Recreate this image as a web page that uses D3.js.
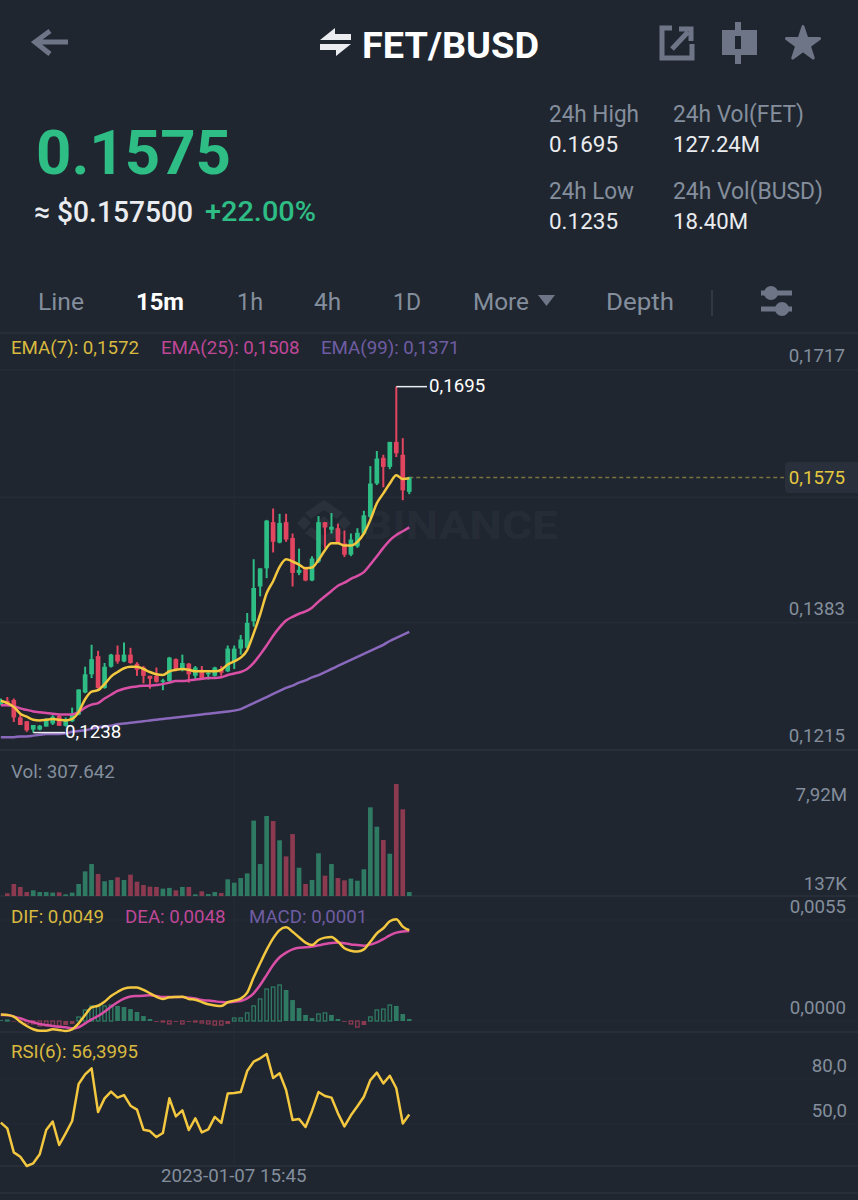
<!DOCTYPE html>
<html>
<head>
<meta charset="utf-8">
<title>FET/BUSD</title>
<script src="https://cdn.jsdelivr.net/npm/d3@7"></script>
<style>
  html, body { margin: 0; padding: 0; background: #1f2630; }
  svg { display: block; font-family: Roboto, sans-serif; }
</style>
</head>
<body>
<div id="chart"></div>
<script>
// 15m candles, first one is cut by the left edge
var opens = [
  0.1275, 0.1280, 0.1281, 0.1258, 0.1253, 0.1242, 0.1242, 0.1246, 0.1250, 0.1260,
  0.1247, 0.1253, 0.1262, 0.1291, 0.1315, 0.1339, 0.1297, 0.1325, 0.1341, 0.1332,
  0.1341, 0.1329, 0.1324, 0.1313, 0.1313, 0.1305, 0.1306, 0.1335, 0.1321, 0.1329,
  0.1313, 0.1321, 0.1315, 0.1313, 0.1321, 0.1319, 0.1332, 0.1349, 0.1350, 0.1385,
  0.1431, 0.1455, 0.1516, 0.1489, 0.1516, 0.1495, 0.1449, 0.1454, 0.1439, 0.1464,
  0.1516, 0.1506, 0.1508, 0.1488, 0.1473, 0.1484, 0.1501, 0.1523, 0.1567, 0.1601,
  0.1589, 0.1622, 0.1605, 0.1556
];
var highs = [
  0.1283, 0.1285, 0.1283, 0.1262, 0.1253, 0.1248, 0.1248, 0.1257, 0.1261, 0.1262,
  0.1258, 0.1271, 0.1295, 0.1325, 0.1354, 0.1346, 0.1330, 0.1342, 0.1353, 0.1357,
  0.1350, 0.1331, 0.1326, 0.1313, 0.1324, 0.1309, 0.1338, 0.1336, 0.1341, 0.1330,
  0.1326, 0.1326, 0.1318, 0.1325, 0.1326, 0.1353, 0.1353, 0.1367, 0.1396, 0.1467,
  0.1455, 0.1519, 0.1534, 0.1527, 0.1527, 0.1501, 0.1481, 0.1457, 0.1471, 0.1524,
  0.1516, 0.1528, 0.1514, 0.1505, 0.1501, 0.1508, 0.1531, 0.1590, 0.1610, 0.1605,
  0.1622, 0.1695, 0.1627, 0.1576
];
var lows = [
  0.1274, 0.1273, 0.1252, 0.1248, 0.1239, 0.1238, 0.1241, 0.1246, 0.1248, 0.1247,
  0.1246, 0.1252, 0.1261, 0.1290, 0.1310, 0.1296, 0.1296, 0.1324, 0.1329, 0.1331,
  0.1329, 0.1313, 0.1303, 0.1296, 0.1304, 0.1294, 0.1305, 0.1319, 0.1319, 0.1304,
  0.1308, 0.1308, 0.1308, 0.1312, 0.1313, 0.1318, 0.1322, 0.1341, 0.1349, 0.1378,
  0.1418, 0.1442, 0.1476, 0.1488, 0.1490, 0.1431, 0.1446, 0.1438, 0.1438, 0.1462,
  0.1482, 0.1501, 0.1487, 0.1470, 0.1471, 0.1482, 0.1499, 0.1521, 0.1565, 0.1562,
  0.1586, 0.1602, 0.1545, 0.1553
];
var closes = [
  0.1281, 0.1274, 0.1258, 0.1248, 0.1241, 0.1248, 0.1247, 0.1256, 0.1259, 0.1247,
  0.1255, 0.1262, 0.1295, 0.1315, 0.1335, 0.1297, 0.1325, 0.1341, 0.1332, 0.1341,
  0.1330, 0.1321, 0.1313, 0.1309, 0.1305, 0.1307, 0.1337, 0.1321, 0.1330, 0.1315,
  0.1324, 0.1310, 0.1317, 0.1324, 0.1317, 0.1349, 0.1349, 0.1361, 0.1383, 0.1429,
  0.1455, 0.1518, 0.1490, 0.1515, 0.1493, 0.1449, 0.1453, 0.1439, 0.1468, 0.1516,
  0.1509, 0.1510, 0.1488, 0.1473, 0.1493, 0.1502, 0.1525, 0.1567, 0.1600, 0.1589,
  0.1622, 0.1607, 0.1558, 0.1575
];
var ema7 = [
  0.1280, 0.1277, 0.1272, 0.1263, 0.1259, 0.1255, 0.1254, 0.1255, 0.1256, 0.1255,
  0.1254, 0.1256, 0.1265, 0.1282, 0.1292, 0.1294, 0.1302, 0.1312, 0.1318, 0.1323,
  0.1325, 0.1325, 0.1322, 0.1318, 0.1315, 0.1314, 0.1319, 0.1321, 0.1322, 0.1321,
  0.1319, 0.1319, 0.1319, 0.1319, 0.1321, 0.1328, 0.1332, 0.1337, 0.1347, 0.1369,
  0.1394, 0.1422, 0.1438, 0.1457, 0.1467, 0.1464, 0.1460, 0.1455, 0.1456, 0.1466,
  0.1479, 0.1488, 0.1488, 0.1485, 0.1485, 0.1490, 0.1501, 0.1519, 0.1541, 0.1554,
  0.1567, 0.1578, 0.1573, 0.1574
];
var ema25 = [
  0.1274, 0.1274, 0.1273, 0.1270, 0.1268, 0.1266, 0.1265, 0.1264, 0.1263, 0.1262,
  0.1262, 0.1262, 0.1265, 0.1271, 0.1275, 0.1277, 0.1283, 0.1288, 0.1293, 0.1296,
  0.1298, 0.1299, 0.1300, 0.1300, 0.1301, 0.1302, 0.1304, 0.1306, 0.1306, 0.1307,
  0.1308, 0.1309, 0.1310, 0.1310, 0.1311, 0.1314, 0.1316, 0.1318, 0.1322, 0.1330,
  0.1341, 0.1353, 0.1366, 0.1377, 0.1386, 0.1391, 0.1395, 0.1398, 0.1403, 0.1411,
  0.1418, 0.1425, 0.1432, 0.1436, 0.1441, 0.1445, 0.1450, 0.1460, 0.1471, 0.1482,
  0.1492, 0.1499, 0.1504, 0.1509
];
var ema99 = [
  0.1232, 0.1232, 0.1232, 0.1233, 0.1233, 0.1234, 0.1235, 0.1236, 0.1236, 0.1236,
  0.1237, 0.1239, 0.1240, 0.1241, 0.1243, 0.1245, 0.1246, 0.1247, 0.1249, 0.1250,
  0.1251, 0.1252, 0.1253, 0.1254, 0.1255, 0.1256, 0.1257, 0.1258, 0.1259, 0.1260,
  0.1261, 0.1262, 0.1263, 0.1264, 0.1265, 0.1266, 0.1267, 0.1269, 0.1273, 0.1277,
  0.1281, 0.1285, 0.1289, 0.1293, 0.1297, 0.1300, 0.1304, 0.1307, 0.1311, 0.1314,
  0.1318, 0.1322, 0.1326, 0.1330, 0.1334, 0.1338, 0.1342, 0.1346, 0.1350, 0.1354,
  0.1359, 0.1363, 0.1367, 0.1371
];
// volume in millions
var volumes = [
  0.00, 0.19, 0.85, 0.64, 0.28, 0.40, 0.28, 0.28, 0.24, 0.26,
  0.12, 0.24, 0.85, 1.74, 2.26, 1.56, 1.04, 1.13, 1.32, 1.13,
  1.51, 1.01, 0.78, 0.66, 0.64, 0.52, 0.57, 0.40, 0.64, 0.64,
  0.12, 0.33, 0.14, 0.28, 0.21, 1.18, 0.94, 1.27, 1.60, 5.33,
  2.26, 5.66, 5.30, 3.94, 2.80, 4.38, 2.00, 0.85, 1.13, 3.02,
  1.44, 2.26, 1.27, 1.11, 1.23, 1.08, 1.89, 6.27, 4.90, 3.96,
  2.99, 7.92, 6.13, 0.28
];
var dif = [
  0.00036, 0.00033, 0.00024, -0.00004, -0.00027, -0.00045, -0.00053, -0.00053, -0.00045, -0.00049,
  -0.00054, -0.00045, -0.00013, 0.00033, 0.00074, 0.00083, 0.00105, 0.00136, 0.00158, 0.00176,
  0.00183, 0.00183, 0.00169, 0.00151, 0.00132, 0.00120, 0.00129, 0.00131, 0.00132, 0.00120,
  0.00116, 0.00103, 0.00091, 0.00085, 0.00082, 0.00102, 0.00111, 0.00122, 0.00154, 0.00238,
  0.00314, 0.00387, 0.00450, 0.00495, 0.00510, 0.00486, 0.00456, 0.00427, 0.00414, 0.00441,
  0.00454, 0.00457, 0.00432, 0.00396, 0.00383, 0.00378, 0.00390, 0.00432, 0.00477, 0.00505,
  0.00543, 0.00554, 0.00514, 0.00495
];
var dea = [
  0.00033, 0.00033, 0.00024, 0.00015, 0.00002, -0.00007, -0.00016, -0.00022, -0.00027, -0.00031,
  -0.00034, -0.00040, -0.00034, -0.00013, 0.00009, 0.00027, 0.00051, 0.00078, 0.00102, 0.00122,
  0.00134, 0.00136, 0.00138, 0.00140, 0.00136, 0.00131, 0.00131, 0.00131, 0.00131, 0.00127,
  0.00122, 0.00114, 0.00111, 0.00107, 0.00103, 0.00102, 0.00105, 0.00109, 0.00123, 0.00151,
  0.00196, 0.00250, 0.00305, 0.00347, 0.00372, 0.00390, 0.00399, 0.00401, 0.00405, 0.00412,
  0.00419, 0.00425, 0.00427, 0.00423, 0.00417, 0.00414, 0.00410, 0.00416, 0.00428, 0.00446,
  0.00466, 0.00481, 0.00488, 0.00490
];
var macd = [
  0.00005, 0.00005, -0.00003, -0.00005, -0.00016, -0.00016, -0.00027, -0.00027, -0.00027, -0.00027,
  -0.00022, -0.00016, 0.00022, 0.00060, 0.00082, 0.00082, 0.00082, 0.00087, 0.00082, 0.00076,
  0.00065, 0.00049, 0.00027, 0.00011, -0.00005, -0.00005, -0.00016, -0.00005, -0.00016, -0.00005,
  -0.00005, -0.00011, -0.00016, -0.00022, -0.00022, -0.00016, 0.00016, 0.00016, 0.00044, 0.00082,
  0.00120, 0.00174, 0.00185, 0.00196, 0.00169, 0.00114, 0.00071, 0.00033, 0.00016, 0.00038,
  0.00044, 0.00033, 0.00011, -0.00005, -0.00016, -0.00033, -0.00022, 0.00022, 0.00060, 0.00065,
  0.00087, 0.00082, 0.00038, 0.00011
];
var rsi = [
  50.9, 47.1, 31.1, 28.2, 22.0, 23.8, 29.8, 46.0, 51.6, 36.0,
  43.8, 52.0, 76.7, 83.1, 87.1, 58.0, 67.1, 71.6, 67.6, 69.3,
  62.2, 59.6, 46.2, 45.3, 41.3, 44.0, 67.1, 55.1, 59.1, 46.0,
  53.8, 44.4, 46.4, 54.7, 50.7, 70.4, 70.7, 71.3, 85.3, 91.6,
  93.8, 96.7, 80.7, 83.8, 72.7, 52.7, 53.3, 48.0, 58.7, 71.3,
  68.7, 67.6, 57.1, 48.4, 55.8, 61.8, 68.2, 79.3, 84.2, 77.1,
  82.2, 73.8, 50.4, 56.4
];

var priceTicks = [0.1717, 0.1549, 0.1383, 0.1215];
var priceLabels = [0.1717, 0.1383, 0.1215];
var macdTicks = [0.0055, 0];
var rsiTicks = [80, 50];

var tabs = ['Line', '15m', '1h', '4h', '1D', 'More', 'Depth'];
var tabX = [38, 136, 237, 314, 393, 473, 606];
var tabW = [46, 48, 26, 27, 28, 56, 68];

var width = 858, height = 1200;
var labelSize = 18.7;
var colors = {
  bg: '#1f2630', grid: '#2a303b', text: '#848e9c', title: '#ffffff',
  up: '#2ebd85', down: '#e2455f', upDim: '#2f7a63', downDim: '#8b3a50',
  yellow: '#f3c73f', pink: '#d94fa6', purple: '#8a68bb',
  yellowText: '#d8b93f', pinkText: '#bf4798', purpleText: '#6f5da3', icon: '#6e7587'
};

var svg = d3.select('#chart').append('svg')
  .attr('width', width).attr('height', height)
  .attr('viewBox', '0 0 ' + width + ' ' + height);

svg.append('rect').attr('width', width).attr('height', height).attr('fill', colors.bg);
svg.append('defs').append('clipPath').attr('id', 'plotClip')
  .append('rect').attr('width', width).attr('height', height);

var idx = d3.range(opens.length);
var x = d3.scaleBand().domain(idx).range([-2.4, 412.5]).paddingInner(0.28).paddingOuter(0.14);
var cx = function (i) { return x(i) + x.bandwidth() / 2; };

var yPrice = d3.scaleLinear().domain([0.1215, 0.1717]).range([750, 370]);
var yVol = d3.scaleLinear().domain([0, 7.92]).range([896, 784]);
var yMacd = d3.scaleLinear().domain([0, 0.0055]).range([1021, 920]);
var yRsi = d3.scaleLinear().domain([50, 80]).range([1124, 1079]);

var comma = function (s) { return String(s).replace('.', ','); };

function addText(str, tx, ty, size, fill, opts) {
  opts = opts || {};
  var t = svg.append('text')
    .attr('x', tx).attr('y', ty)
    .attr('font-size', size)
    .attr('fill', fill)
    .attr('dominant-baseline', 'central')
    .attr('text-anchor', opts.anchor || 'start')
    .attr('font-weight', opts.weight || 400)
    .text(str);
  if (opts.len) t.attr('textLength', opts.len).attr('lengthAdjust', 'spacingAndGlyphs');
  return t;
}

// ---- header ----
svg.append('path')
  .attr('d', 'M68 42H36M50 31L35 42L50 54')
  .attr('fill', 'none').attr('stroke', colors.icon).attr('stroke-width', 5);

svg.append('path')
  .attr('d', 'M335 28V34H351V40H320ZM320 44H351L336 56V50H320Z')
  .attr('fill', '#eaecef');
addText('FET/BUSD', 362, 46, 36, colors.title, { weight: 700, len: 177 });

// share icon
svg.append('path')
  .attr('d', 'M672 28H662V58H692V44')
  .attr('fill', 'none').attr('stroke', colors.icon).attr('stroke-width', 5);
svg.append('path')
  .attr('d', 'M672 49L688 32M679 29H691V41')
  .attr('fill', 'none').attr('stroke', colors.icon).attr('stroke-width', 5);
// candle icon
svg.append('path')
  .attr('d', 'M722 30H735V22H741V30H757V55H741V64H735V55H722ZM735 36H741V49H735Z')
  .attr('fill', colors.icon).attr('fill-rule', 'evenodd');
// star
svg.append('path')
  .attr('d', d3.symbol(d3.symbolStar, 340)())
  .attr('transform', 'translate(803,44)')
  .attr('fill', colors.icon).attr('stroke', colors.icon)
  .attr('stroke-width', 3).attr('stroke-linejoin', 'round');

addText('0.1575', 36, 152, 62, colors.up, { weight: 700, len: 195 });
addText('≈ $0.157500', 34, 212, 29, '#eaecef', { weight: 500, len: 159 });
addText('+22.00%', 205, 212, 27, colors.up, { weight: 500, len: 111 });

addText('24h High', 549, 114, 23, colors.text, { len: 90 });
addText('0.1695', 549, 144, 22, '#eaecef', { len: 69 });
addText('24h Low', 549, 191, 23, colors.text, { len: 85 });
addText('0.1235', 549, 221, 22, '#eaecef', { len: 69 });
addText('24h Vol(FET)', 673, 114, 23, colors.text, { len: 131 });
addText('127.24M', 673, 144, 22, '#eaecef', { len: 87 });
addText('24h Vol(BUSD)', 673, 191, 23, colors.text, { len: 150 });
addText('18.40M', 673, 221, 22, '#eaecef', { len: 75 });

// ---- tabs ----
tabs.forEach(function (name, i) {
  var active = name === '15m';
  addText(name, tabX[i], 302, 24, active ? '#ffffff' : colors.text,
    { weight: active ? 700 : 400, len: tabW[i] });
});
svg.append('path').attr('d', 'M538 295H555L546.5 306Z').attr('fill', colors.icon);
svg.append('line').attr('x1', 712).attr('x2', 712).attr('y1', 290).attr('y2', 316)
  .attr('stroke', '#3a404c').attr('stroke-width', 1.5);
svg.append('path')
  .attr('d', 'M761 293H792M761 309H792')
  .attr('stroke', colors.icon).attr('stroke-width', 5);
svg.append('circle').attr('cx', 771).attr('cy', 293).attr('r', 7).attr('fill', colors.icon);
svg.append('circle').attr('cx', 782).attr('cy', 309).attr('r', 7).attr('fill', colors.icon);

// ---- grid ----
var hLines = [333, 750, 896, 1032, 1166, 1193];
svg.selectAll('.sep').data(hLines).enter().append('line')
  .attr('class', 'sep')
  .attr('x1', 0).attr('x2', width)
  .attr('y1', function (d) { return d; }).attr('y2', function (d) { return d; })
  .attr('stroke', '#2c323d').attr('stroke-width', 1.5);

svg.selectAll('.pgrid').data(priceTicks).enter().append('line')
  .attr('class', 'pgrid')
  .attr('x1', 0).attr('x2', width)
  .attr('y1', function (d) { return yPrice(d); }).attr('y2', function (d) { return yPrice(d); })
  .attr('stroke', colors.grid).attr('stroke-width', 1);
[yMacd(0.0055), yMacd(0), yRsi(80), yRsi(50)].forEach(function (gy) {
  svg.append('line').attr('x1', 0).attr('x2', width).attr('y1', gy).attr('y2', gy)
    .attr('stroke', '#252b36').attr('stroke-width', 1);
});
svg.append('line').attr('x1', cx(36)).attr('x2', cx(36)).attr('y1', 334).attr('y2', 1166)
  .attr('stroke', '#272d38').attr('stroke-width', 1);

// watermark
var wm = svg.append('g').attr('fill', 'rgba(255,255,255,0.055)');
wm.append('path')
  .attr('d', 'M324 500L343 513L337 519L324 510L311 519L305 513Z'
    + 'M304 516L311 523L304 530L297 523Z'
    + 'M324 516L331 523L324 530L317 523Z'
    + 'M344 516L351 523L344 530L337 523Z'
    + 'M324 546L343 533L337 527L324 536L311 527L305 533Z');
wm.append('text').attr('x', 363).attr('y', 526).attr('dominant-baseline', 'central')
  .attr('font-size', 39).attr('font-weight', 700).attr('textLength', 195)
  .attr('lengthAdjust', 'spacingAndGlyphs').text('BINANCE');

// ---- legends and axis labels ----
addText('EMA(7): 0,1572', 11, 348, labelSize, colors.yellowText);
addText('EMA(25): 0,1508', 161, 348, labelSize, colors.pinkText);
addText('EMA(99): 0,1371', 321, 348, labelSize, colors.purpleText);
addText('Vol: 307.642', 11, 772, labelSize, colors.text);
addText('DIF: 0,0049', 11, 917, labelSize, colors.yellowText);
addText('DEA: 0,0048', 125, 917, labelSize, colors.pinkText);
addText('MACD: 0,0001', 249, 917, labelSize, colors.purpleText);
addText('RSI(6): 56,3995', 11, 1052, labelSize, colors.yellowText);

svg.selectAll('.plabel').data(priceLabels).enter().append('text')
  .attr('class', 'plabel')
  .attr('x', 845)
  .attr('y', function (d) { return yPrice(d) - 14; })
  .attr('text-anchor', 'end').attr('dominant-baseline', 'central')
  .attr('font-size', labelSize).attr('fill', colors.text)
  .text(function (d) { return comma(d3.format('.4f')(d)); });
addText('7,92M', 847, 795, labelSize, colors.text, { anchor: 'end' });
addText('137K', 847, 884, labelSize, colors.text, { anchor: 'end' });
svg.selectAll('.mlabel').data(macdTicks).enter().append('text')
  .attr('class', 'mlabel')
  .attr('x', 846)
  .attr('y', function (d) { return yMacd(d) - 13; })
  .attr('text-anchor', 'end').attr('dominant-baseline', 'central')
  .attr('font-size', labelSize).attr('fill', colors.text)
  .text(function (d) { return comma(d3.format('.4f')(d)); });
svg.selectAll('.rlabel').data(rsiTicks).enter().append('text')
  .attr('class', 'rlabel')
  .attr('x', 847)
  .attr('y', function (d) { return yRsi(d) - 13; })
  .attr('text-anchor', 'end').attr('dominant-baseline', 'central')
  .attr('font-size', labelSize).attr('fill', colors.text)
  .text(function (d) { return comma(d3.format('.1f')(d)); });
addText('2023-01-07 15:45', 161, 1176, labelSize, colors.text);

var plot = svg.append('g').attr('clip-path', 'url(#plotClip)');

// ---- last price line ----
var lastY = yPrice(closes[closes.length - 1]);
plot.append('line')
  .attr('x1', cx(63)).attr('x2', 784).attr('y1', lastY).attr('y2', lastY)
  .attr('stroke', '#7a7440').attr('stroke-width', 1.5).attr('stroke-dasharray', '4 3');
svg.append('rect').attr('x', 785).attr('y', 462).attr('width', 80).attr('height', 31)
  .attr('rx', 4).attr('fill', '#2a303b');
addText('0,1575', 845, 478, labelSize, '#e6c83e', { anchor: 'end' });

// ---- candles ----
var isUp = function (i) { return closes[i] >= opens[i]; };

plot.selectAll('.wick').data(idx).enter().append('line')
  .attr('class', 'wick')
  .attr('x1', cx).attr('x2', cx)
  .attr('y1', function (i) { return yPrice(highs[i]); })
  .attr('y2', function (i) { return yPrice(lows[i]); })
  .attr('stroke', function (i) { return isUp(i) ? colors.up : colors.down; })
  .attr('stroke-width', 2);

plot.selectAll('.body').data(idx).enter().append('rect')
  .attr('class', 'body')
  .attr('x', function (i) { return x(i); })
  .attr('width', x.bandwidth())
  .attr('y', function (i) { return yPrice(Math.max(opens[i], closes[i])); })
  .attr('height', function (i) { return Math.max(1.5, Math.abs(yPrice(opens[i]) - yPrice(closes[i]))); })
  .attr('fill', function (i) { return isUp(i) ? colors.up : colors.down; });

function drawLine(values, yScale, color, curve) {
  var line = d3.line()
    .x(function (d, i) { return cx(i); })
    .y(function (d) { return yScale(d); })
    .curve(curve || d3.curveMonotoneX);
  plot.append('path').datum(values)
    .attr('d', line)
    .attr('fill', 'none')
    .attr('stroke', color)
    .attr('stroke-width', 2.5)
    .attr('stroke-linejoin', 'round');
}

drawLine(ema99, yPrice, colors.purple);
drawLine(ema25, yPrice, colors.pink);
drawLine(ema7, yPrice, colors.yellow);

// high / low markers
var hiIdx = d3.maxIndex(highs), loIdx = d3.minIndex(lows);
plot.append('line').attr('x1', cx(hiIdx)).attr('x2', 427)
  .attr('y1', yPrice(highs[hiIdx])).attr('y2', yPrice(highs[hiIdx]))
  .attr('stroke', '#eaecef').attr('stroke-width', 1.5);
addText(comma(highs[hiIdx].toFixed(4)), 429, yPrice(highs[hiIdx]) - 1, labelSize, '#ffffff');
plot.append('line').attr('x1', cx(loIdx)).attr('x2', 65)
  .attr('y1', yPrice(lows[loIdx])).attr('y2', yPrice(lows[loIdx]))
  .attr('stroke', '#eaecef').attr('stroke-width', 1.5);
addText(comma(lows[loIdx].toFixed(4)), 65, yPrice(lows[loIdx]) - 1, labelSize, '#ffffff');

// ---- volume ----
plot.selectAll('.vol').data(idx).enter().append('rect')
  .attr('class', 'vol')
  .attr('x', function (i) { return x(i); })
  .attr('width', x.bandwidth())
  .attr('y', function (i) { return yVol(volumes[i]); })
  .attr('height', function (i) { return yVol(0) - yVol(volumes[i]); })
  .attr('fill', function (i) { return isUp(i) ? colors.upDim : colors.downDim; });

// ---- macd ----
var hollow = function (i) { return i > 0 && Math.abs(macd[i]) >= Math.abs(macd[i - 1]); };
plot.selectAll('.hist').data(idx).enter().append('rect')
  .attr('class', 'hist')
  .attr('x', function (i) { return x(i) + (hollow(i) ? 0.6 : 0); })
  .attr('width', function (i) { return x.bandwidth() - (hollow(i) ? 1.2 : 0); })
  .attr('y', function (i) { return yMacd(Math.max(0, macd[i])); })
  .attr('height', function (i) { return Math.abs(yMacd(macd[i]) - yMacd(0)); })
  .attr('fill', function (i) {
    if (hollow(i)) return 'none';
    return macd[i] >= 0 ? colors.upDim : colors.downDim;
  })
  .attr('stroke', function (i) {
    if (!hollow(i)) return 'none';
    return macd[i] >= 0 ? colors.upDim : colors.downDim;
  })
  .attr('stroke-width', 1.3);

drawLine(dea, yMacd, colors.pink);
drawLine(dif, yMacd, colors.yellow);

// ---- rsi ----
drawLine(rsi, yRsi, colors.yellow, d3.curveLinear);
</script>
</body>
</html>
